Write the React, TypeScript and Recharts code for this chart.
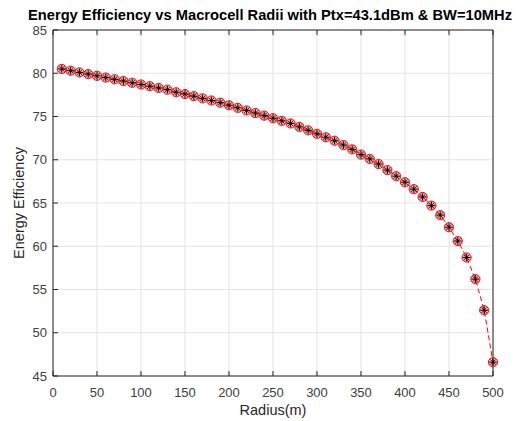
import React from 'react';
import { LineChart, Line, XAxis, YAxis, CartesianGrid } from 'recharts';

const RADIUS = [
  10, 20, 30, 40, 50, 60, 70, 80, 90, 100,
  110, 120, 130, 140, 150, 160, 170, 180, 190, 200,
  210, 220, 230, 240, 250, 260, 270, 280, 290, 300,
  310, 320, 330, 340, 350, 360, 370, 380, 390, 400,
  410, 420, 430, 440, 450, 460, 470, 480, 490, 500,
];

const EFFICIENCY = [
  80.5, 80.3, 80.1, 79.9, 79.7, 79.5, 79.3, 79.1, 78.9, 78.7,
  78.5, 78.3, 78.1, 77.8, 77.6, 77.35, 77.1, 76.85, 76.6, 76.3,
  76.0, 75.7, 75.4, 75.1, 74.8, 74.5, 74.2, 73.8, 73.4, 73.0,
  72.6, 72.2, 71.7, 71.2, 70.6, 70.1, 69.5, 68.8, 68.1, 67.4,
  66.6, 65.7, 64.7, 63.6, 62.2, 60.6, 58.7, 56.2, 52.6, 46.6,
];

const X_TICKS = [0, 50, 100, 150, 200, 250, 300, 350, 400, 450, 500];
const Y_TICKS = [45, 50, 55, 60, 65, 70, 75, 80, 85];

const data = RADIUS.map((r, i) => ({ radius: r, ee: EFFICIENCY[i] }));

const AXIS = '#262626';
const FONT = '"Liberation Sans", Arial, Helvetica, sans-serif';

// red circle with a black asterisk on top, like MATLAB 'ro' + 'k*'
const StarCircle = (props: any) => {
  const { cx, cy } = props;
  if (cx == null || cy == null) return null;
  const s = 3.8;
  const d = 2.7;
  return (
    <g>
      <circle cx={cx} cy={cy} r={4.6} fill="rgba(220,70,70,0.4)" stroke="#ff0000" strokeWidth={1} />
      <line x1={cx - s} y1={cy} x2={cx + s} y2={cy} stroke="#000" strokeWidth={1} />
      <line x1={cx} y1={cy - s} x2={cx} y2={cy + s} stroke="#000" strokeWidth={1} />
      <line x1={cx - d} y1={cy - d} x2={cx + d} y2={cy + d} stroke="#000" strokeWidth={0.8} />
      <line x1={cx - d} y1={cy + d} x2={cx + d} y2={cy - d} stroke="#000" strokeWidth={0.8} />
    </g>
  );
};

const NoTick = () => <g />;

export default function App() {
  return (
    <div style={{ position: 'absolute', left: 0, top: 0, width: 519, height: 421, background: '#fff', fontFamily: FONT, overflow: 'hidden' }}>
      <div
        style={{
          position: 'absolute',
          left: 28,
          top: 6,
          fontWeight: 'bold',
          fontSize: 14.7,
          color: '#000',
          whiteSpace: 'nowrap',
          lineHeight: '18px',
        }}
      >
        Energy Efficiency vs Macrocell Radii with Ptx=43.1dBm &amp; BW=10MHz
      </div>
      <LineChart width={519} height={421} data={data} margin={{ top: 29, right: 25, left: 0, bottom: 0 }}>
        <CartesianGrid xAxisId="bottom" yAxisId="left" stroke="#e3e3e3" strokeWidth={1} />
        <XAxis
          xAxisId="bottom"
          dataKey="radius"
          type="number"
          domain={[0, 500]}
          ticks={X_TICKS}
          height={45}
          stroke={AXIS}
          tickSize={-5}
          tickMargin={17}
          tick={{ fill: '#404040', fontSize: 13, fontFamily: FONT }}
          label={{ value: 'Radius(m)', position: 'insideBottom', offset: 6, fill: '#262626', fontSize: 14.5, fontFamily: FONT }}
        />
        <XAxis
          xAxisId="top"
          dataKey="radius"
          type="number"
          orientation="top"
          domain={[0, 500]}
          ticks={X_TICKS}
          height={1}
          stroke={AXIS}
          tickSize={-5}
          tick={NoTick}
        />
        <YAxis
          yAxisId="left"
          type="number"
          domain={[45, 85]}
          ticks={Y_TICKS}
          width={53}
          stroke={AXIS}
          tickSize={-5}
          tickMargin={11}
          tick={{ fill: '#404040', fontSize: 13, fontFamily: FONT }}
          label={{ value: 'Energy Efficiency', angle: -90, position: 'insideLeft', offset: 19, style: { textAnchor: 'middle' }, fill: '#262626', fontSize: 14.5, fontFamily: FONT }}
        />
        <YAxis
          yAxisId="right"
          type="number"
          orientation="right"
          domain={[45, 85]}
          ticks={Y_TICKS}
          width={1}
          stroke={AXIS}
          tickSize={-5}
          tick={NoTick}
        />
        <Line
          xAxisId="bottom"
          yAxisId="left"
          type="linear"
          dataKey="ee"
          stroke="#ff0000"
          strokeWidth={1}
          strokeDasharray="5 3"
          dot={<StarCircle />}
          activeDot={false}
          isAnimationActive={false}
        />
      </LineChart>
    </div>
  );
}
